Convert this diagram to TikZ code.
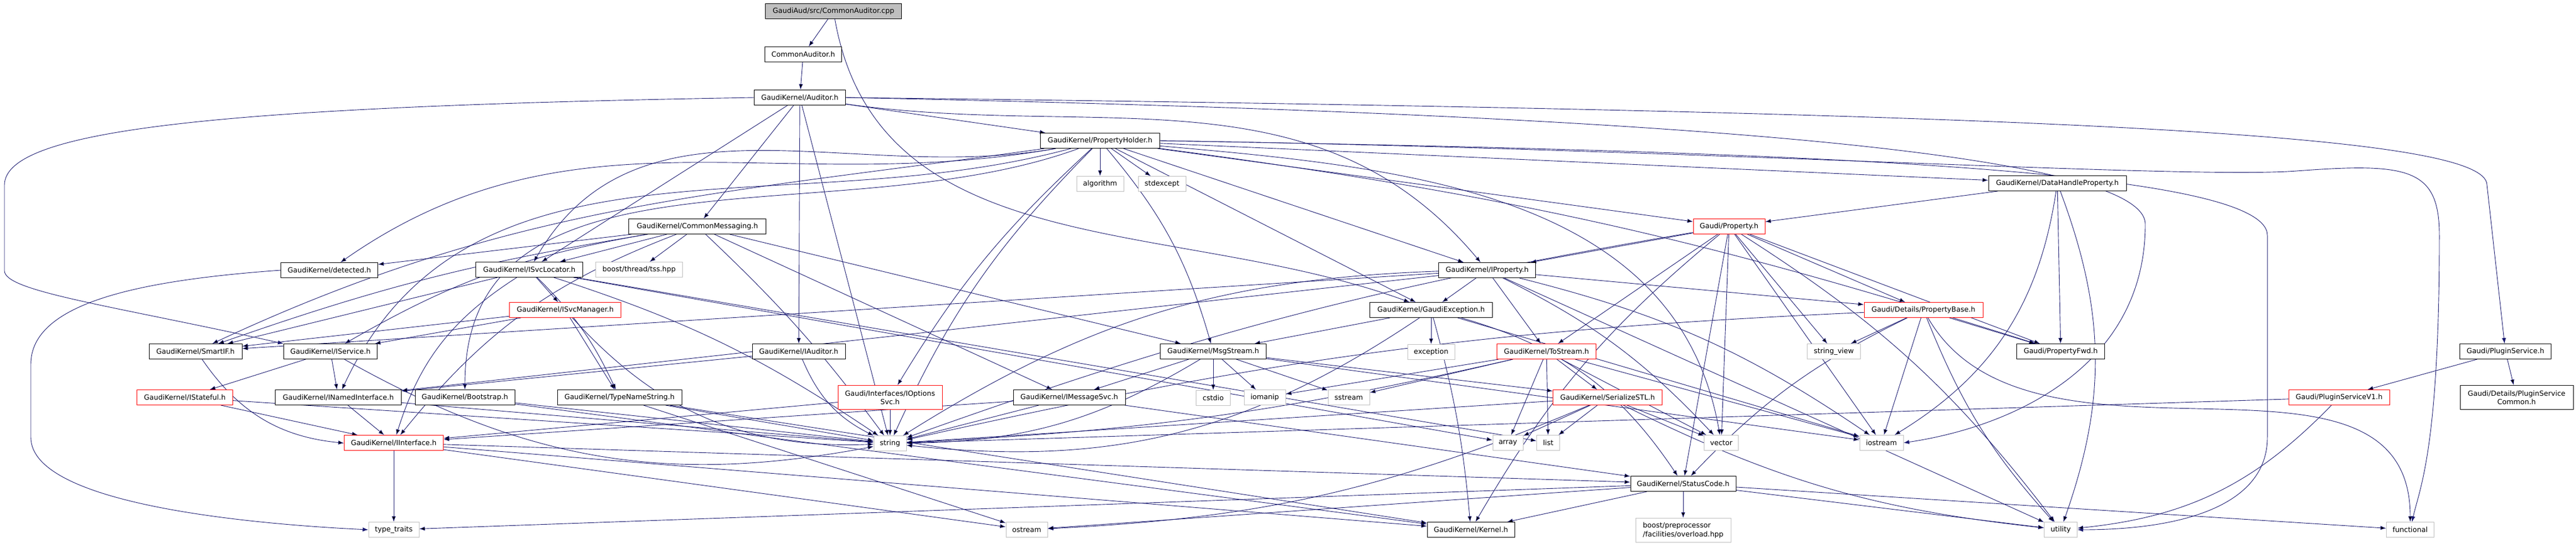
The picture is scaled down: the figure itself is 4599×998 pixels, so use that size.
\documentclass[tikz,border=0pt]{standalone}
\usepackage{fontspec}
\setmainfont{DejaVu Sans}
\usetikzlibrary{arrows.meta}
\usetikzlibrary{positioning}
\usetikzlibrary{backgrounds}

\definecolor{depblue}{HTML}{191970}
\definecolor{sysgray}{HTML}{BFBFBF}

\tikzset{
  hdr/.style={draw=black, line width=0.5pt, fill=white, inner sep=0pt,
    minimum height=13.5pt, align=center, font=\fontsize{6.3}{7.6}\selectfont},
  syshdr/.style={hdr, draw=sysgray},
  badhdr/.style={hdr, draw=red},
  roothdr/.style={hdr, fill=sysgray},
  dep/.style={-{Latex[length=5pt,width=3.6pt]}, draw=depblue, line width=0.45pt},
}

\begin{document}
\begin{tikzpicture}[x=0.5pt, y=0.5pt]

\useasboundingbox (0,0) rectangle (4599,-998);

% top chain
\node[roothdr, minimum width=121.5pt] (cpp) at (1488,-20) {GaudiAud/src/CommonAuditor.cpp};
\node[hdr, minimum width=68.5pt] (cah) at (1434,-97) {CommonAuditor.h};
\node[hdr, minimum width=81.5pt] (aud) at (1428,-174) {GaudiKernel/Auditor.h};
\node[hdr, minimum width=106.5pt] (ph) at (1964,-251) {GaudiKernel/PropertyHolder.h};
\node[syshdr, minimum width=42pt] (algo) [below=24.5pt of ph] {algorithm};
\node[syshdr, minimum width=42.5pt] (stdex) [right=12.5pt of algo] {stdexcept};
\node[hdr, minimum width=123pt] (dhp) at (3673,-327) {GaudiKernel/DataHandleProperty.h};

% row 404 / 482
\node[hdr, minimum width=122.5pt] (cm) at (1245,-404) {GaudiKernel/CommonMessaging.h};
\node[badhdr, minimum width=64pt] (prop) at (3087,-404) {Gaudi/Property.h};
\node[hdr, minimum width=86.5pt] (det) at (588,-482) {GaudiKernel/detected.h};
\node[hdr, minimum width=95.5pt] (isl) at (945,-481) {GaudiKernel/ISvcLocator.h};
\node[syshdr, minimum width=77.5pt] (tss) at (1141,-481) {boost/thread/tss.hpp};
\node[hdr, minimum width=86.5pt] (iprop) at (2655,-482) {GaudiKernel/IProperty.h};

% row 553 / 627
\node[badhdr, minimum width=99.5pt] (isvm) at (1009,-553) {GaudiKernel/ISvcManager.h};
\node[hdr, minimum width=109.5pt] (gex) at (2555,-553) {GaudiKernel/GaudiException.h};
\node[badhdr, minimum width=106pt] (pbase) at (3434,-553) {Gaudi/Details/PropertyBase.h};
\node[hdr, minimum width=83pt] (smartif) at (349,-627) {GaudiKernel/SmartIF.h};
\node[hdr, minimum width=83.5pt] (iserv) at (590,-627) {GaudiKernel/IService.h};
\node[hdr, minimum width=83pt] (iaud) at (1426,-627) {GaudiKernel/IAuditor.h};
\node[hdr, minimum width=94.5pt] (msg) at (2166,-627) {GaudiKernel/MsgStream.h};
\node[syshdr, minimum width=42pt] (exc) [below=23.5pt of gex] {exception};
\node[badhdr, minimum width=88.5pt] (tostr) at (2761,-627) {GaudiKernel/ToStream.h};
\node[syshdr, minimum width=47.5pt] (sview) at (3274,-627) {string\_view};
\node[hdr, minimum width=78.5pt] (pfwd) at (3679,-627) {Gaudi/PropertyFwd.h};
\node[hdr, minimum width=81.5pt] (plug) at (4473,-627) {Gaudi/PluginService.h};

% row 709
\node[badhdr, minimum width=85.5pt] (istate) at (330,-709) {GaudiKernel/IStateful.h};
\node[hdr, minimum width=112.5pt] (inamed) at (604,-709) {GaudiKernel/INamedInterface.h};
\node[hdr, minimum width=89pt] (boot) at (830,-709) {GaudiKernel/Bootstrap.h};
\node[hdr, minimum width=111pt] (tns) at (1106,-709) {GaudiKernel/TypeNameString.h};
\node[badhdr, minimum width=93pt, minimum height=21.5pt] (iopt) at (1589,-709) {Gaudi/Interfaces/IOptions\\Svc.h};
\node[hdr, minimum width=100pt] (imsg) at (1909,-709) {GaudiKernel/IMessageSvc.h};
\node[syshdr, minimum width=30.5pt] (cstdio) [below=27.5pt of msg] {cstdio};
\node[syshdr, minimum width=37pt] (iomanip) at (2258,-709) {iomanip};
\node[syshdr, minimum width=37pt] (sstream) at (2408,-709) {sstream};
\node[badhdr, minimum width=97.5pt] (sstl) at (2870,-709) {GaudiKernel/SerializeSTL.h};
\node[badhdr, minimum width=90pt] (plugv1) at (4176,-709) {Gaudi/PluginServiceV1.h};
\node[hdr, minimum width=101pt, minimum height=21.5pt] (plugc) at (4493,-709) {Gaudi/Details/PluginService\\Common.h};

% row 790 / 863
\node[badhdr, minimum width=88.5pt] (iint) at (703,-790) {GaudiKernel/IInterface.h};
\node[syshdr, minimum width=29pt] (string) [below=23pt of iopt] {string};
\node[syshdr, minimum width=27pt] (array) at (2692,-790) {array};
\node[syshdr, minimum width=20.5pt] (list) at (2764,-790) {list};
\node[syshdr, minimum width=30.5pt] (vector) at (3073,-790) {vector};
\node[syshdr, minimum width=39pt] (iostream) at (3359,-790) {iostream};
\node[hdr, minimum width=94pt] (sc) at (3005,-863) {GaudiKernel/StatusCode.h};

% bottom row
\node[syshdr, minimum width=45pt] (tt) at (703,-945) {type\_traits};
\node[syshdr, minimum width=37pt] (ostream) at (1833,-945) {ostream};
\node[hdr, minimum width=78pt] (kernel) at (2626,-945) {GaudiKernel/Kernel.h};
\node[syshdr, minimum width=85pt, minimum height=21.5pt, align=left] (ovl) [below=23.5pt of sc] {boost/preprocessor\\/facilities/overload.hpp};
\node[syshdr, minimum width=29.5pt] (utility) at (3679,-945) {utility};
\node[syshdr, minimum width=42.5pt] (func) at (4303,-945) {functional};

\begin{scope}[on background layer]

\path[dep]
  (cpp) edge (cah)
  (cpp) edge[out=-80, in=160] (gex)
  (cah) edge (aud);

% Auditor.h
\path[dep]
  (aud) edge (ph)
  (aud) edge (cm)
  (aud) edge (isl)
  (aud) edge (iaud)
  (aud) edge (string)
  (aud) edge[out=-8, in=130] (iprop);
\draw[dep] (aud.west) .. controls (400,-190) and (8,-230) .. (8,-330) -- (8,-483) .. controls (8,-520) and (200,-545) .. (iserv.north west);
\draw[dep] (aud.east) .. controls (3700,-200) and (4440,-240) .. (4440,-330) -- (plug);
\draw[dep] (aud.east) .. controls (2800,-200) and (3830,-260) .. (3830,-400) .. controls (3830,-650) and (3600,-760) .. (iostream.east);

% PropertyHolder.h
\path[dep]
  (ph) edge (algo)
  (ph) edge (stdex)
  (ph) edge[out=190, in=35] (det)
  (ph) edge[out=190, in=60] (isl)
  (ph) edge[out=188, in=25] (smartif)
  (ph) edge[out=195, in=65] (inamed)
  (ph) edge[out=200, in=90] (boot)
  (ph) edge[bend right=10] (string)
  (ph) edge[bend right=8] (iopt)
  (ph) edge[bend left=12] (msg)
  (ph) edge (gex)
  (ph) edge (iprop)
  (ph) edge (prop)
  (ph) edge (dhp)
  (ph) edge[bend left=5] (pfwd)
  (ph) edge[out=-5, in=100] (vector);
\draw[dep] (ph.east) .. controls (3200,-270) and (4048,-300) .. (4048,-420) -- (4048,-780) .. controls (4048,-900) and (3900,-945) .. (utility.east);
\draw[dep] (ph.east) .. controls (3000,-265) and (3900,-320) .. (4100,-305) .. controls (4300,-290) and (4355,-300) .. (4355,-420) .. controls (4355,-800) and (4320,-870) .. (func);

% CommonMessaging.h
\path[dep]
  (cm) edge (tss)
  (cm) edge (det)
  (cm) edge (isl)
  (cm) edge[bend right=5] (smartif)
  (cm) edge[bend right=10] (iserv)
  (cm) edge[bend right=15] (iint)
  (cm) edge[bend left=5] (string)
  (cm) edge (imsg)
  (cm) edge (msg);

% service interfaces
\path[dep]
  (isl) edge (isvm)
  (isl) edge (smartif)
  (isl) edge[bend right=20] (iint)
  (isl) edge[bend left=8] (string)
  (isl) edge[bend left=10] (tns)
  (isl) edge (list)
  (isl) edge (array)
  (isvm) edge (smartif)
  (isvm) edge (iserv)
  (isvm) edge (tns)
  (isvm) edge[bend right=25] (string)
  (iserv) edge (istate)
  (iserv) edge (inamed)
  (iserv) edge[bend right=20] (string)
  (istate) edge (iint)
  (istate) edge (string)
  (inamed) edge (iint)
  (inamed) edge (string)
  (smartif) edge[bend right=25] (iint)
  (boot) edge (string)
  (boot) edge (kernel)
  (tns) edge (string)
  (tns) edge (ostream)
  (tns) edge (kernel)
  (iaud) edge (inamed)
  (iaud) edge[bend right=20] (string)
  (iopt) edge (string)
  (iopt) edge (iint)
  (imsg) edge (string)
  (imsg) edge (iint)
  (imsg) edge (sc)
  (iint) edge (tt)
  (iint) edge (sc)
  (iint) edge (kernel)
  (iint) edge (ostream);
\draw[dep] (det.west) .. controls (250,-500) and (55,-540) .. (55,-650) -- (55,-780) .. controls (55,-900) and (450,-935) .. (tt.west);

% messages and exceptions
\path[dep]
  (msg) edge (imsg)
  (msg) edge (cstdio)
  (msg) edge (iomanip)
  (msg) edge (sstream)
  (msg) edge[bend left=15] (string)
  (msg) edge (sstl)
  (msg) edge (iostream)
  (gex) edge (msg)
  (gex) edge (exc)
  (gex) edge[bend left=20] (string)
  (gex) edge[bend left=5] (kernel)
  (gex) edge[bend left=20] (sc)
  (gex) edge (iostream);

% properties
\path[dep]
  (iprop) edge (gex)
  (iprop) edge (tostr)
  (iprop) edge[bend left=10] (vector)
  (iprop) edge[bend left=10] (iostream)
  (iprop) edge (pbase)
  (iprop) edge[bend right=15] (string)
  (iprop) edge (smartif)
  (iprop) edge (inamed)
  (iprop) edge (utility)
  (prop) edge (iprop)
  (prop) edge (tostr)
  (prop) edge (pbase)
  (prop) edge (sview)
  (prop) edge (pfwd)
  (prop) edge[bend right=5] (string)
  (prop) edge (iostream)
  (prop) edge (vector)
  (prop) edge[bend left=10] (utility)
  (prop) edge (sc)
  (prop) edge[bend right=10] (kernel)
  (dhp) edge (prop)
  (dhp) edge (pfwd)
  (dhp) edge[bend left=25] (iostream)
  (dhp) edge[bend left=20] (utility)
  (pbase) edge (sview)
  (pbase) edge (pfwd)
  (pbase) edge (iostream)
  (pbase) edge[bend right=10] (sc)
  (pbase) edge[bend right=10] (utility)
  (pbase) edge[out=-60, in=90] (func)
  (pbase) edge[bend right=5] (string);

% streaming and status
\path[dep]
  (tostr) edge (iomanip)
  (tostr) edge (sstream)
  (tostr) edge (array)
  (tostr) edge (list)
  (tostr) edge (sstl)
  (tostr) edge (vector)
  (tostr) edge (iostream)
  (tostr) edge[bend left=5] (string)
  (sstl) edge (array)
  (sstl) edge (list)
  (sstl) edge (vector)
  (sstl) edge[bend left=10] (ostream)
  (sstl) edge[bend right=10] (utility)
  (sstl) edge (string)
  (sc) edge (kernel)
  (sc) edge (ovl)
  (sc) edge (tt)
  (sc) edge (ostream)
  (sc) edge (utility)
  (sc) edge (func);

% plugin service
\path[dep]
  (plug) edge (plugv1)
  (plug) edge (plugc)
  (plugv1) edge (string)
  (plugv1) edge[bend left=20] (utility);

\end{scope}

\end{tikzpicture}
\end{document}
